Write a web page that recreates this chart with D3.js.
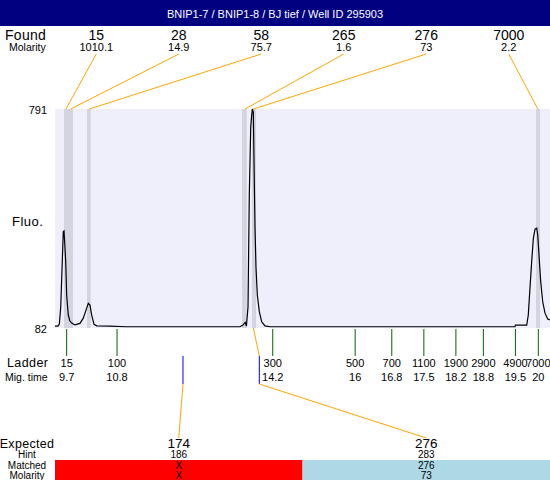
<!DOCTYPE html>
<html>
<head>
<meta charset="utf-8">
<script src="https://cdn.jsdelivr.net/npm/d3@7"></script>
<style>
  body { margin: 0; background: #fff; }
  svg { display: block; font-family: "Liberation Sans", Arial, sans-serif; }
</style>
</head>
<body>
<div id="main"></div>
<script>
const title = "BNIP1-7 / BNIP1-8 / BJ tief / Well ID 295903";

// found peaks
const foundSizes = [15, 28, 58, 265, 276, 7000];
const foundMolarity = ["1010.1", "14.9", "75.7", "1.6", "73", "2.2"];
const foundTimes = [9.685, 9.788, 10.194, 13.594, 13.776, 19.99];
const bandStart = [9.642, 9.729, 10.144, 13.529, 13.747, 19.95];
const bandEnd = [9.729, 9.838, 10.225, 13.632, 13.835, 20.037];

// ladder
const ladderSizes = [15, 100, 300, 500, 700, 1100, 1900, 2900, 4900, 7000];
const ladderTimes = [9.7, 10.8, 14.2, 16, 16.8, 17.5, 18.2, 18.8, 19.5, 20];

// expected fragments
const expectedSizes = [174, 276];
const expectedTimes = [12.24, 13.907];
const hints = ["186", "283"];
const matched = ["X", "276"];
const matchedMolarity = ["X", "73"];
const matchedPeak = [-1, 4];

// electropherogram trace (migration time, fluorescence)
const traceTime = [9.445, 9.51, 9.54, 9.57, 9.6, 9.626, 9.642, 9.66, 9.679, 9.7, 9.735, 9.77, 9.81, 9.88,
  9.99, 10.063, 10.122, 10.172, 10.209, 10.246, 10.297, 10.356, 10.646, 11.0, 12.0, 13.485, 13.55, 13.6,
  13.625, 13.66, 13.688, 13.719, 13.741, 13.755, 13.776, 13.791, 13.813, 13.835, 13.863, 13.907, 13.959,
  14.031, 14.14, 15.0, 17.0, 19.49, 19.5, 19.746, 19.781, 19.818, 19.855, 19.891, 19.928, 19.965, 19.987,
  20.015, 20.052, 20.096, 20.146, 20.205, 20.255];
const traceFluo = [88, 88, 95, 150, 280, 394, 396, 350, 297, 188, 124, 105, 98, 92,
  97, 114, 140, 162, 156, 124, 94, 89, 88, 86, 86, 86, 92, 100,
  88, 150, 512, 730, 772, 791, 780, 620, 405, 276, 189, 135, 102,
  89, 86, 86, 86, 86, 91, 91, 124, 212, 297, 372, 402, 405, 383,
  318, 232, 167, 130, 111, 108];

const yTicks = [82, 791];

const width = 550;
const height = 480;
const plot = { left: 55, right: 550, top: 109, bottom: 328 };

const svg = d3.select("#main").append("svg").attr("width", width).attr("height", height);

const xScale = d3.scaleLinear().domain([9.445, 20.255]).range([plot.left, plot.right]);
const yScale = d3.scaleLinear().domain([82, 791]).range([plot.bottom, plot.top]);
const foundBand = d3.scaleBand().domain(d3.range(foundSizes.length)).range([plot.left, plot.right]);
const expBand = d3.scaleBand().domain(d3.range(expectedSizes.length)).range([plot.left, plot.right]);

// title bar
svg.append("rect").attr("x", 0).attr("y", 0).attr("width", width).attr("height", 26).attr("fill", "#000080");
svg.append("text").attr("x", 275).attr("y", 18).attr("text-anchor", "middle")
  .attr("fill", "#fff").style("font-size", "11px").text(title);

// found row
svg.append("text").attr("x", 5).attr("y", 40).style("font-size", "14px").style("letter-spacing", "0.3px").text("Found");
svg.append("text").attr("x", 9).attr("y", 51).style("font-size", "10.5px").text("Molarity");

svg.selectAll(".found").data(foundSizes).enter().append("text")
  .attr("class", "found")
  .attr("x", (d, i) => foundBand(i) + foundBand.bandwidth() / 2)
  .attr("y", 40).attr("text-anchor", "middle").style("font-size", "14px").text((d) => d);
svg.selectAll(".foundmol").data(foundMolarity).enter().append("text")
  .attr("class", "foundmol")
  .attr("x", (d, i) => foundBand(i) + foundBand.bandwidth() / 2)
  .attr("y", 51).attr("text-anchor", "middle").style("font-size", "11px").text((d) => d);

// plot background + bands
svg.append("rect").attr("x", plot.left).attr("y", plot.top)
  .attr("width", plot.right - plot.left).attr("height", plot.bottom - plot.top).attr("fill", "#efeffb");
svg.selectAll(".band").data(bandStart).enter().append("rect")
  .attr("class", "band")
  .attr("x", (d) => xScale(d)).attr("y", plot.top)
  .attr("width", (d, i) => xScale(bandEnd[i]) - xScale(d))
  .attr("height", plot.bottom - plot.top).attr("fill", "#d4d4e0");

// connectors found label -> peak
svg.selectAll(".conn").data(foundTimes).enter().append("line")
  .attr("class", "conn")
  .attr("x1", (d, i) => foundBand(i) + foundBand.bandwidth() / 2).attr("y1", 54)
  .attr("x2", (d) => xScale(d)).attr("y2", plot.top)
  .attr("stroke", "#ffa500").attr("stroke-width", 1);

// y labels
svg.selectAll(".ytick").data(yTicks).enter().append("text")
  .attr("class", "ytick")
  .attr("x", 47).attr("y", (d) => yScale(d) + 5).attr("text-anchor", "end")
  .style("font-size", "11px").text((d) => d);
svg.append("text").attr("x", 12).attr("y", 226).style("font-size", "13px").style("letter-spacing", "0.5px").text("Fluo.");

// trace
svg.append("clipPath").attr("id", "clip").append("rect")
  .attr("x", plot.left).attr("y", plot.top - 1).attr("width", plot.right - plot.left).attr("height", plot.bottom - plot.top + 2);
const line = d3.line().x((d) => xScale(d[0])).y((d) => yScale(d[1]));
svg.append("path")
  .datum(d3.zip(traceTime, traceFluo))
  .attr("clip-path", "url(#clip)")
  .attr("d", line).attr("fill", "none").attr("stroke", "#000").attr("stroke-width", 1.2);

// ladder
svg.selectAll(".ltick").data(ladderTimes).enter().append("line")
  .attr("class", "ltick")
  .attr("x1", (d) => xScale(d)).attr("x2", (d) => xScale(d))
  .attr("y1", plot.bottom + 1).attr("y2", 356)
  .attr("stroke", "#006400").attr("stroke-width", 1);
svg.selectAll(".lsize").data(ladderSizes).enter().append("text")
  .attr("class", "lsize")
  .attr("x", (d, i) => xScale(ladderTimes[i])).attr("y", 367).attr("text-anchor", "middle")
  .style("font-size", "11px").text((d) => d);
svg.selectAll(".ltime").data(ladderTimes).enter().append("text")
  .attr("class", "ltime")
  .attr("x", (d) => xScale(d)).attr("y", 381).attr("text-anchor", "middle")
  .style("font-size", "11px").text((d) => d);
svg.append("text").attr("x", 7).attr("y", 367).style("font-size", "12.5px").style("letter-spacing", "0.4px").text("Ladder");
svg.append("text").attr("x", 5).attr("y", 381).style("font-size", "10.5px").text("Mig. time");

// expected markers
svg.selectAll(".etick").data(expectedTimes).enter().append("line")
  .attr("class", "etick")
  .attr("x1", (d) => xScale(d)).attr("x2", (d) => xScale(d))
  .attr("y1", 356).attr("y2", 384)
  .attr("stroke", "#0000ff").attr("stroke-width", 1);
svg.selectAll(".elink").data(expectedTimes).enter().append("line")
  .attr("class", "elink")
  .attr("x1", (d) => xScale(d)).attr("y1", 384)
  .attr("x2", (d, i) => expBand(i) + expBand.bandwidth() / 2).attr("y2", 438)
  .attr("stroke", "#ffa500").attr("stroke-width", 1);
const matchedIdx = d3.range(expectedTimes.length).filter((i) => matchedPeak[i] >= 0);
svg.selectAll(".mlink").data(matchedIdx).enter().append("line")
  .attr("class", "mlink")
  .attr("x1", (i) => xScale(foundTimes[matchedPeak[i]])).attr("y1", plot.bottom)
  .attr("x2", (i) => xScale(expectedTimes[i])).attr("y2", 356)
  .attr("stroke", "#ffa500").attr("stroke-width", 1);

// expected table
svg.selectAll(".mrect").data(matched).enter().append("rect")
  .attr("class", "mrect")
  .attr("x", (d, i) => expBand(i)).attr("y", 460)
  .attr("width", expBand.bandwidth()).attr("height", 20)
  .attr("fill", (d) => (d === "X" ? "#ff0000" : "#add8e6"));

const rows = [
  { label: "Expected", values: expectedSizes, y: 448, size: 13.5 },
  { label: "Hint", values: hints, y: 458, size: 10 },
  { label: "Matched", values: matched, y: 468.5, size: 10 },
  { label: "Molarity", values: matchedMolarity, y: 478.5, size: 10 },
];
rows.forEach((r) => {
  svg.append("text").attr("x", 27).attr("y", r.y).attr("text-anchor", "middle")
    .style("font-size", (r.label === "Expected" ? 12.5 : r.size) + "px")
    .style("letter-spacing", r.label === "Expected" ? "0.3px" : "0px").text(r.label);
  svg.selectAll(null).data(r.values).enter().append("text")
    .attr("x", (d, i) => expBand(i) + expBand.bandwidth() / 2).attr("y", r.y)
    .attr("text-anchor", "middle").style("font-size", r.size + "px").text((d) => d);
});
</script>
</body>
</html>
